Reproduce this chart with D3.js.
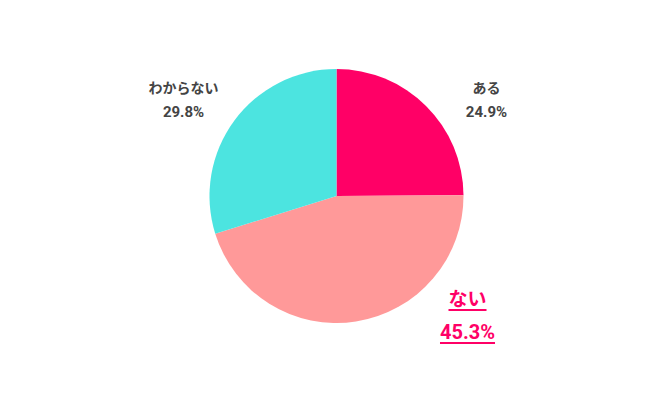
<!DOCTYPE html>
<html>
<head>
<meta charset="utf-8">
<script src="https://cdn.jsdelivr.net/npm/d3@7/dist/d3.min.js"></script>
<style>
  body { margin: 0; background: #fff; }
  svg text { font-family: "Noto Sans CJK JP", Roboto, sans-serif; font-weight: bold; }
</style>
</head>
<body>
<div id="chart"></div>
<script>
const categories = ["ある", "ない", "わからない"];
const values = [24.9, 45.3, 29.8];
const colors = ["#ff0066", "#ff9999", "#4ce4e0"];

const width = 650, height = 400;
const cx = 336.5, cy = 196, radius = 127;

const svg = d3.select("#chart")
	.append("svg")
	.attr("width", width)
	.attr("height", height);

const data = categories.map(function(c, i){
	return {name: c, value: values[i], color: colors[i]};
});

const pie = d3.pie()
	.sort(null)
	.value(d => d.value);

const arc = d3.arc()
	.innerRadius(0)
	.outerRadius(radius);

const g = svg.append("g")
	.attr("transform", `translate(${cx},${cy})`);

g.selectAll("path")
	.data(pie(data))
	.enter()
	.append("path")
	.attr("d", arc)
	.attr("fill", d => d.data.color);

// label positions, relative to pie center
const labelPos = {
	"ある": {x: 150, y: -103, size: 14, color: "#444"},
	"わからない": {x: -153, y: -103, size: 14, color: "#444"},
	"ない": {x: 131, y: 110, size: 19, color: "#ff0066", underline: true}
};

data.forEach(function(d){
	let p = labelPos[d.name];
	let lineGap = p.underline ? 33 : 24;
	let t1 = g.append("text")
		.attr("x", p.x)
		.attr("y", p.y)
		.attr("text-anchor", "middle")
		.attr("fill", p.color)
		.style("font-size", p.size + "px")
		.text(d.name);
	let t2 = g.append("text")
		.attr("x", p.x)
		.attr("y", p.y + lineGap)
		.attr("text-anchor", "middle")
		.attr("fill", p.color)
		.style("font-size", (p.underline ? 20 : 15) + "px")
		.style("font-family", "Roboto, sans-serif")
		.text(d.value.toFixed(1) + "%");
	if (p.underline){
		[t1, t2].forEach(function(t){
			let b = t.node().getBBox();
			g.append("line")
				.attr("x1", b.x)
				.attr("x2", b.x + b.width)
				.attr("y1", +t.attr("y") + 4)
				.attr("y2", +t.attr("y") + 4)
				.attr("stroke", p.color)
				.attr("stroke-width", 2);
		});
	}
});
</script>
</body>
</html>
